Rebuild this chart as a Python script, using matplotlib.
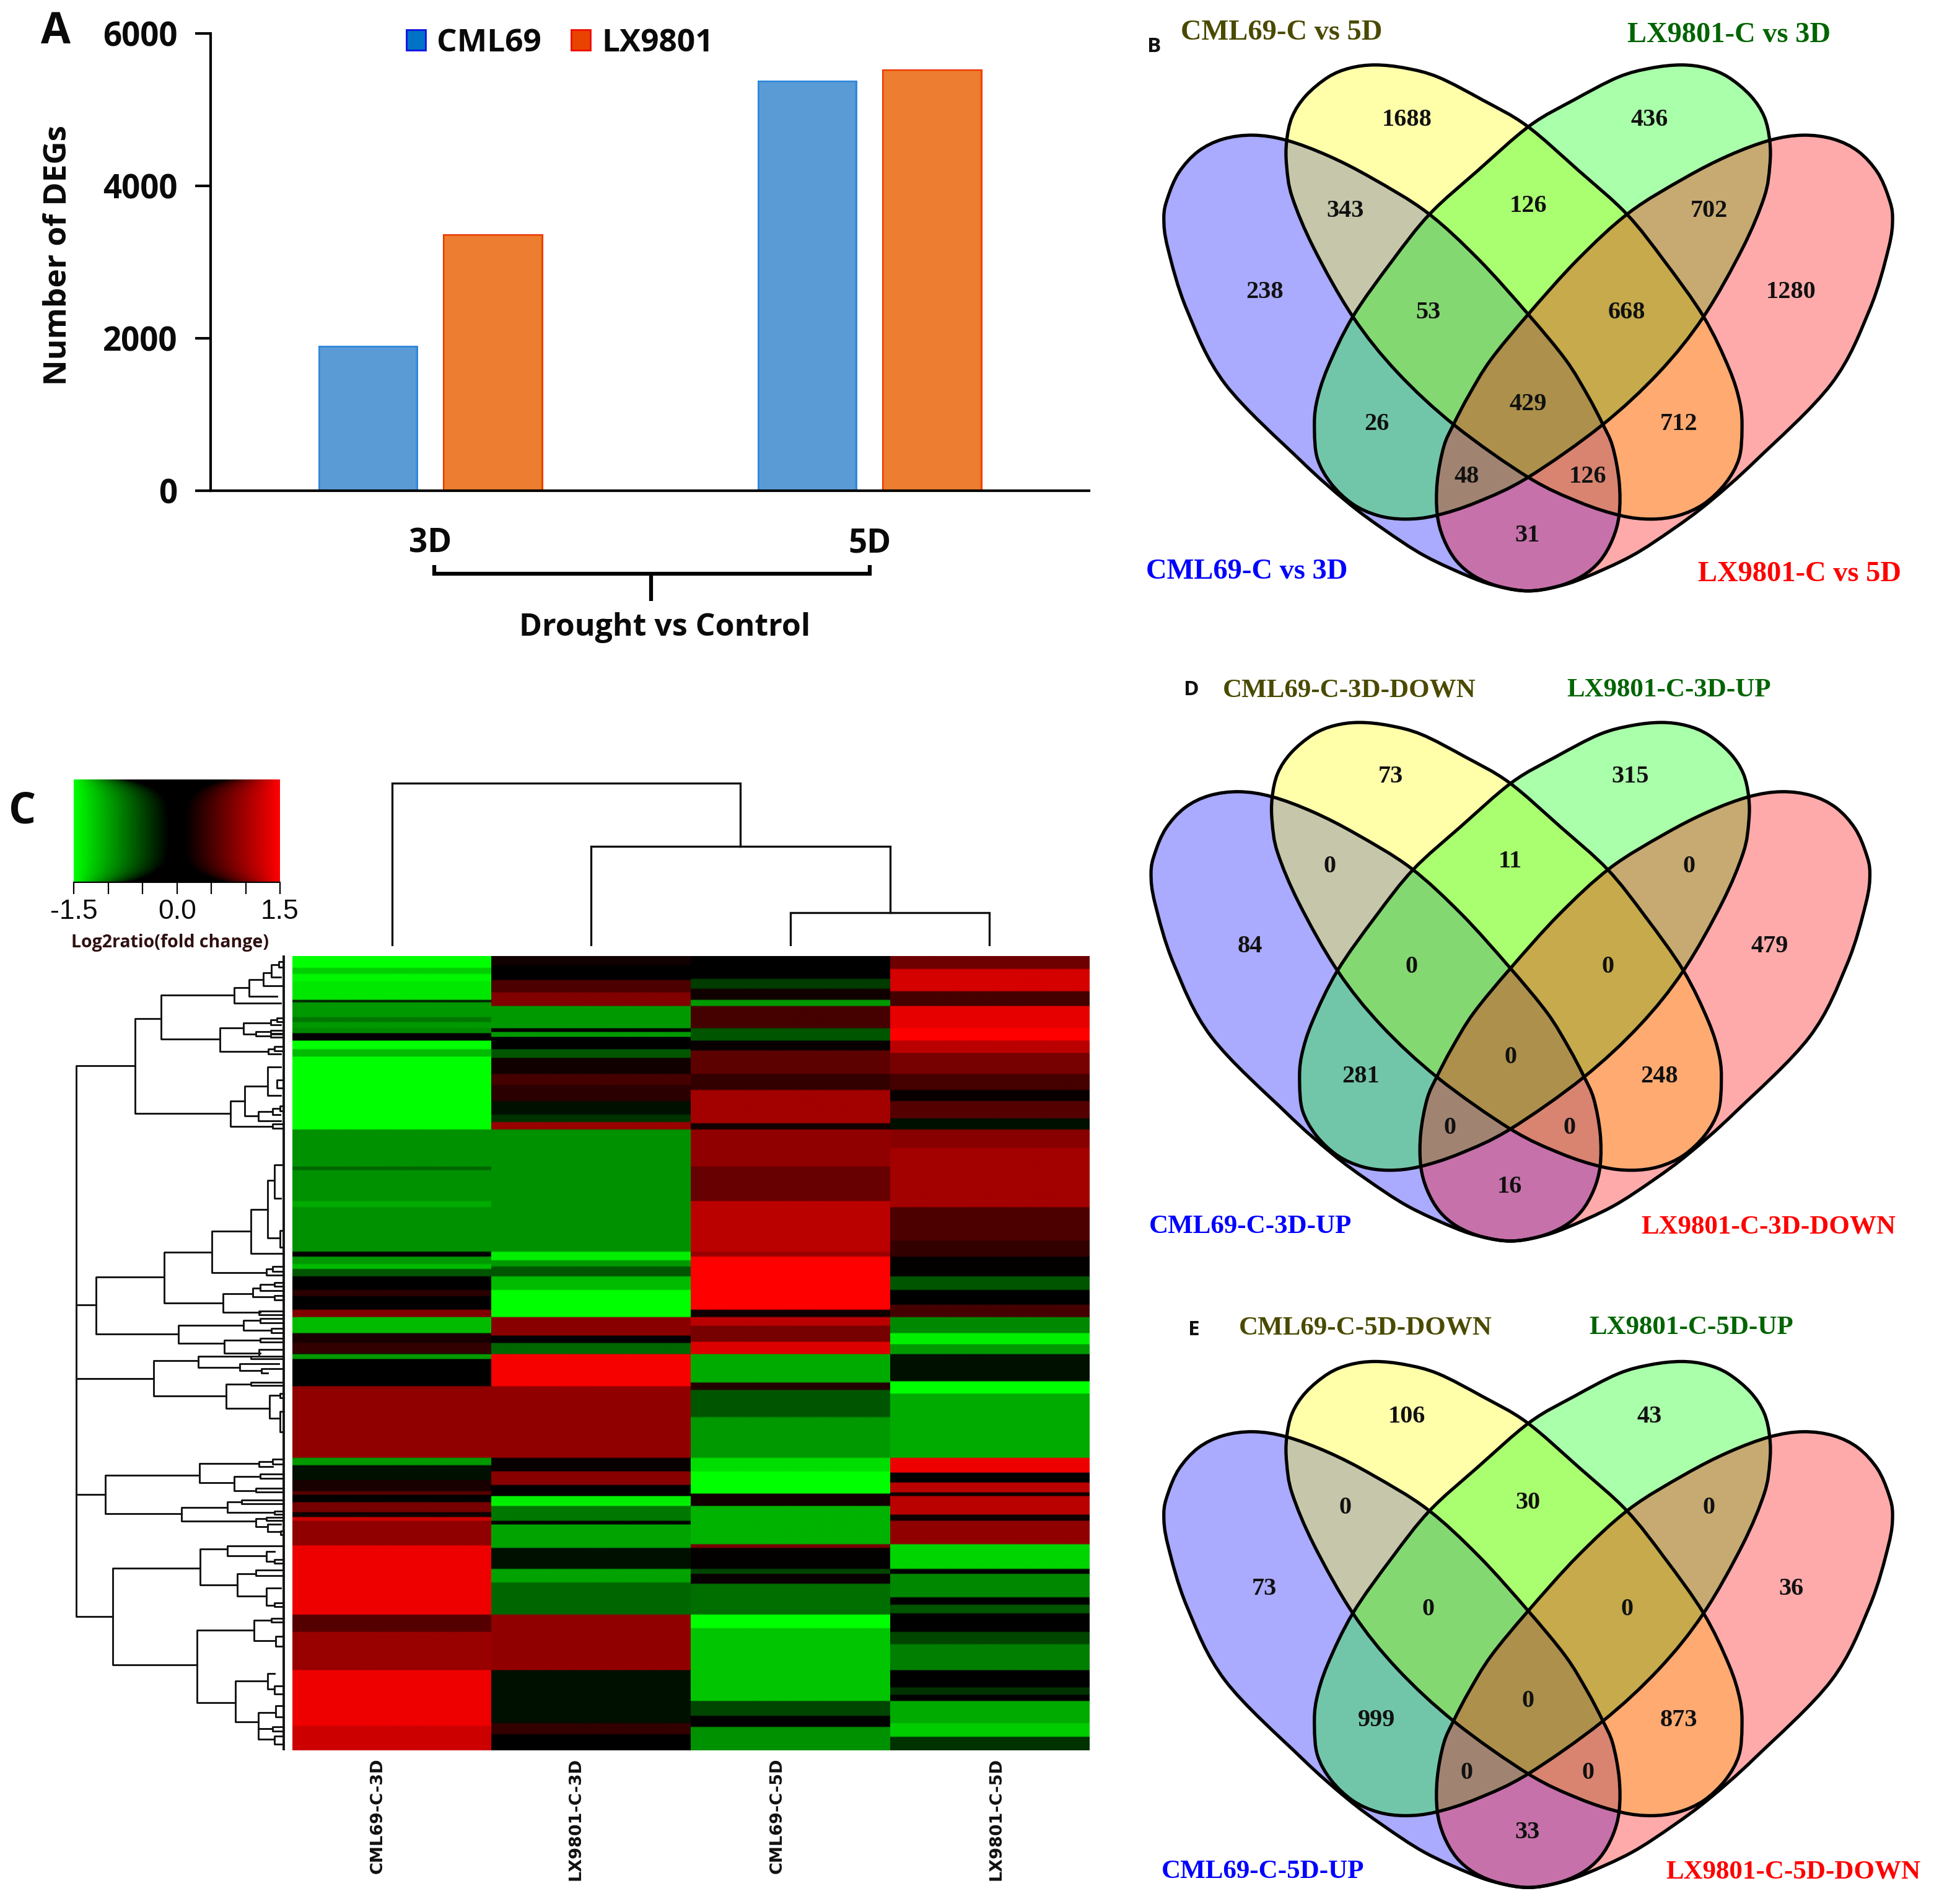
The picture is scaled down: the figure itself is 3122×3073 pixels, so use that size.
import numpy as np
import matplotlib
matplotlib.use("Agg")
import matplotlib.pyplot as plt
import matplotlib.patheffects as pe
from matplotlib.path import Path
from matplotlib.patches import PathPatch, Patch
from matplotlib.colors import LinearSegmentedColormap

W, H = 3122, 3073
S = W / 1568.0  # layout px -> figure px

# ---------- Panel A ----------
days = ["3D", "5D"]
cml69_degs = [1880, 5360]
lx9801_degs = [3340, 5500]

# ---------- Heatmap (run-length per column: row where a band starts, value of band) ----------
samples = ["CML69-C-3D", "LX9801-C-3D", "CML69-C-5D", "LX9801-C-5D"]
n_rows = 644
c1_start = [0,10,15,21,36,38,50,54,59,63,69,76,82,141,171,174,199,204,240,244,250,254,260,271,276,287,293,306,314,322,323,327,349,407,413,425,434,437,443,451,455,458,478,534,548,579,624]
c1_value = [-1.5,-1.2,-1.45,-1.35,-.2,-.9,-.7,-.9,-.8,0,-1.5,-1.1,-1.5,-.85,-.6,-.85,-1.0,-.85,0,-.9,-1.1,-.5,0,.25,0,.75,-1.1,.15,.3,.2,-.9,0,.85,-.9,-.1,.15,.5,0,.7,.1,1.2,.85,1.4,.5,.9,1.4,1.2]
c2_start = [0,8,20,30,41,59,62,66,76,83,96,105,118,129,135,141,240,247,252,260,271,293,308,314,323,349,407,418,429,438,446,458,461,480,497,508,534,579,622,631]
c2_value = [.1,0,.45,.75,-.9,0,-.9,0,-.5,.1,.4,.25,-.1,-.3,.9,-.85,-1.4,-.9,-.5,-1.1,-1.5,.8,0,-.6,1.45,.85,.05,.8,0,-1.4,-.7,0,-.95,-.1,-.95,-.6,.85,-.1,.3,0]
c3_start = [0,19,27,36,41,59,69,77,96,109,136,141,171,199,240,244,287,293,300,313,323,346,352,374,407,418,436,446,477,480,497,501,509,534,545,604,616,625]
c3_value = [0,-.35,.1,-.9,.4,-.5,.05,.55,.3,.95,.1,.85,.6,1.1,.9,1.5,.1,1.1,.7,1.3,-1.0,.2,-.5,-.9,-1.3,-1.5,.1,-1.05,.7,.02,-.4,.05,-.65,-1.5,-1.15,-.4,0,-.85]
c4_start = [0,11,29,41,59,69,79,96,109,118,132,141,156,204,231,244,260,271,283,293,306,315,323,345,355,407,419,427,435,438,453,458,477,497,501,520,526,533,548,558,579,593,599,604,622,633]
c4_value = [.65,1.25,.4,1.35,1.5,1.1,.7,.4,.05,.5,-.1,.8,.95,.45,.3,.02,-.5,0,.4,-.8,-1.4,-.9,-.1,-1.5,-1.0,1.4,0,1.1,.1,1.1,.1,.85,-1.25,0,-.8,0,-.5,0,-.4,-.75,0,-.3,0,-1.0,-1.2,-.3]

def expand(starts, values):
    lens = np.diff(list(starts) + [n_rows])
    return np.repeat(values, lens)

heat = np.column_stack([expand(c1_start, c1_value), expand(c2_start, c2_value),
                        expand(c3_start, c3_value), expand(c4_start, c4_value)])

# ---------- Column dendrogram ----------
col_merge_left = [2, 1, 0]
col_merge_right = [3, 2.5, 1.75]
col_merge_height = [27, 81, 132]

# ---------- Row dendrogram: merge height, top leaf pos, bottom leaf pos, child height top, child height bottom ----------
row_tree = [
 (40,435,2578,325,215),(40,1365,2103,135,180),(40,1653,1653,415,415),
 (325,250,620,450,785),(450,160,330,805,735),(805,130,190,875,1030),(875,100,165,945,1010),
 (945,72,122,985,1040),(985,40,90,1020,1030),(1020,30,50,1045,1045),
 (735,288,378,848,970),(848,268,310,980,910),(980,255,275,1010,1030),(1010,248,262,1045,1045),
 (910,302,318,980,980),(980,296,308,1045,1045),(980,312,324,1045,1045),(970,368,388,1000,1030),(1000,360,376,1045,1045),
 (785,572,670,855,990),(855,515,630,965,920),(965,440,550,1030,1030),(1010,490,520,1045,1045),
 (920,612,650,990,1030),(990,600,625,1025,1025),(1025,590,610,1045,1045),(990,660,678,1045,1045),
 (135,1258,1478,465,535),(465,1160,1358,695,750),(695,1078,1240,885,960),(885,995,1165,965,1045),
 (965,880,1105,1000,1025),(1000,820,950,1035,1030),(1025,1075,1140,1045,1045),(960,1225,1250,990,1045),(990,1215,1235,1045,1045),
 (750,1322,1395,895,930),(895,1300,1335,930,1000),(930,1285,1310,1000,1045),(1000,1278,1292,1045,1045),(1000,1330,1345,1045,1045),
 (925,1390,1405,1045,1045),(535,1445,1515,848,755),(848,1425,1465,930,985),(930,1418,1435,1045,1045),(985,1458,1475,1045,1045),
 (755,1503,1553,930,930),(930,1495,1510,1045,1045),(925,1540,1565,1045,1045),
 (415,1583,1720,630,765),(630,1565,1608,885,830),(885,1565,1575,1045,1045),(830,1595,1620,1020,935),(935,1615,1630,1045,965),
 (765,1673,1768,885,975),(885,1668,1680,1045,1045),(975,1718,1808,1025,1025),(1025,1780,1860,1045,1045),(1025,1710,1728,1045,1045),
 (180,2028,2178,635,550),(635,1983,2058,925,805),(925,1975,1995,990,990),(990,1965,1985,1045,1045),(805,2033,2088,930,910),
 (930,2025,2040,1045,1045),(910,2080,2095,1045,1045),(550,2153,2208,770,910),(770,2133,2173,840,1000),(840,2125,2140,1045,1045),
 (1000,2168,2180,1045,1045),(910,2198,2228,960,965),(960,2192,2205,1045,1045),(965,2220,2248,1030,1030),(1030,2245,2260,1045,1045),
 (215,2390,2768,640,625),(640,2316,2456,770,820),(770,2303,2343,1045,960),(960,2325,2365,1000,1000),(1000,2358,2372,1045,1045),
 (820,2413,2500,910,960),(910,2398,2420,1045,1045),(960,2468,2535,1030,1000),(1000,2525,2540,1045,1045),
 (625,2633,2913,900,810),(900,2593,2673,985,1005),(985,2585,2600,1045,1045),(1005,2655,2695,1045,1045),
 (810,2830,2988,965,920),(965,2800,2860,1000,1000),(1000,2848,2880,1045,1045),
 (920,2953,3016,1005,990),(920,3016,3056,990,1000),(1005,2925,2970,1045,1045),(1000,3045,3075,1045,1045),(990,3008,3024,1045,1045),
]

# ---------- Venn ----------
region_xy = [(248,738),(530,302),(1010,302),(1290,738),(408,532),(770,520),(1128,532),(572,790),
             (965,790),(770,1022),(470,1072),(1068,1072),(648,1205),(888,1205),(768,1355)]
venn_b = [238,1688,436,1280,343,126,702,53,668,429,26,712,48,126,31]
venn_d = [84,73,315,479,0,11,0,0,0,0,281,248,0,0,16]
venn_e = [73,106,43,36,0,30,0,0,0,0,999,873,0,0,33]
labels_b = ["CML69-C vs 5D", "LX9801-C vs 3D", "CML69-C vs 3D", "LX9801-C vs 5D"]
labels_d = ["CML69-C-3D-DOWN", "LX9801-C-3D-UP", "CML69-C-3D-UP", "LX9801-C-3D-DOWN"]
labels_e = ["CML69-C-5D-DOWN", "LX9801-C-5D-UP", "CML69-C-5D-UP", "LX9801-C-5D-DOWN"]

petal_blue = [(770,1495),(713,1484),(658,1461),(565,1406),(483,1338),(412,1270),(320,1165),(170,970),(95,784),(57,627),(49,549),
              (57,497),(79,434),(117,381),(166,350),(226,340),(292,353),(374,392),(461,449),(570,536),(672,655),(770,794),(844,909),
              (887,998),(917,1071),(937,1129),(950,1218),(950,1301),(937,1364),(912,1419),(876,1458),(827,1484)]
petal_yellow = [(292,355),(303,293),(330,240),(374,193),(417,170),(467,162),(527,170),(592,193),(680,251),(767,316),(870,430),(965,540),
                (1040,660),(1117,800),(1167,930),(1189,1019),(1193,1087),(1187,1160),(1160,1223),(1117,1275),(1067,1304),(1013,1313),
                (953,1304),(871,1270),(770,1207),(625,1076),(511,941),(423,800),(346,627),(303,497),(292,418)]

fig = plt.figure(figsize=(W/100, H/100), dpi=100, facecolor="white")

def axpx(x0, y0, x1, y1):
    return fig.add_axes([x0*S/W, 1-y1*S/H, (x1-x0)*S/W, (y1-y0)*S/H])

SANS = ["Open Sans", "DejaVu Sans"]
SERIF = ["Liberation Serif", "DejaVu Serif"]
DARK = "#0a0a0a"

ov = fig.add_axes([0,0,1,1], zorder=10)
ov.set_xlim(0, W/S); ov.set_ylim(H/S, 0); ov.axis("off"); ov.patch.set_alpha(0)

# ---------- A ----------
axA = axpx(171, 27, 883, 398)
x = np.arange(len(days))
w = 0.218; off = 0.142
b1 = axA.bar(x-off, cml69_degs, w, color="#5B9BD5", linewidth=0)
b2 = axA.bar(x+off, lx9801_degs, w, color="#ED7D31", linewidth=0)
for p in b1:
    p.set_path_effects([pe.Stroke(linewidth=5,foreground="#2C85DC"),pe.Stroke(linewidth=2.5,foreground="#3A8FD8"),pe.Normal()])
for p in b2:
    p.set_path_effects([pe.Stroke(linewidth=5,foreground="#F02800"),pe.Stroke(linewidth=2.5,foreground="#EA6A00"),pe.Normal()])
axA.set_xlim(-0.5, 1.5); axA.set_ylim(0, 6000)
axA.set_xticks(x); axA.set_xticklabels(days)
axA.set_yticks([0,2000,4000,6000])
axA.tick_params(axis="x", length=0, pad=42)
axA.tick_params(axis="y", length=18, width=3, pad=21)
for t in axA.get_xticklabels()+axA.get_yticklabels():
    t.set_fontfamily(SANS); t.set_fontweight("bold"); t.set_fontsize(38); t.set_color(DARK)
for s in ["top","right"]:
    axA.spines[s].set_visible(False)
for s in ["left","bottom"]:
    axA.spines[s].set_linewidth(3)
axA.set_ylabel("Number of DEGs", fontfamily=SANS, fontweight="bold", fontsize=37, color=DARK)
axA.yaxis.set_label_coords((60-171)/712, 1-(207-27)/371)
handles = [Patch(facecolor="#0072C6",edgecolor="#1010E0",lw=2,label="CML69"),
           Patch(facecolor="#E84400",edgecolor="#F00A00",lw=2,label="LX9801")]
leg = axA.legend(handles=handles, ncol=2, loc="center", bbox_to_anchor=((454-171)/712, 1-(35-27)/371), frameon=False,
                 handlelength=0.6, handleheight=0.6, handletextpad=0.35, columnspacing=0.95,
                 prop={"family":SANS,"weight":"bold","size":37})
for t in leg.get_texts(): t.set_color(DARK)

ov.plot([352,352,705,705],[458,465,465,458], color="k", lw=4.5, solid_capstyle="butt", solid_joinstyle="miter")
ov.plot([528,528],[465,487], color="k", lw=4.5, solid_capstyle="butt")
ov.text(539,509,"Drought vs Control",ha="center",va="center",family=SANS,weight="bold",fontsize=36,color=DARK)
ov.text(45,26,"A",ha="center",va="center",family=SANS,weight="bold",fontsize=50,color=DARK)
ov.text(18,658,"C",ha="center",va="center",family=SANS,weight="bold",fontsize=50,color=DARK)

# ---------- C heatmap ----------
cmap = LinearSegmentedColormap.from_list("gbr", ["#00FF00","#000000","#FF0000"])
axH = axpx(237, 775, 883, 1419)
for i in range(4):
    axH.imshow(heat[:,[i]], aspect="auto", cmap=cmap, vmin=-1.5, vmax=1.5, interpolation="bilinear",
               extent=(i-0.5,i+0.5,n_rows,0))
axH.set_xlim(-0.5,3.5); axH.set_ylim(n_rows,0)
axH.set_yticks([]); axH.set_xticks([])
for s in axH.spines.values(): s.set_visible(False)
label_x = [306,467,630,808]
for lx_, s_ in zip(label_x, samples):
    ov.text(lx_,1425,s_,rotation=90,ha="center",va="top",family="DejaVu Sans",weight="bold",fontsize=19.5,color="#101010")

# column dendrogram
axT = axpx(237, 630, 883, 767)
axT.set_xlim(-0.5,3.5); axT.set_ylim(0,137); axT.axis("off")
child_h = {0:0,1:0,2:0,3:0,2.5:27,1.75:81}
for l,r,h in zip(col_merge_left,col_merge_right,col_merge_height):
    axT.plot([l,l,r,r],[child_h[l],h,h,child_h[r]],color="#111111",lw=2.4,solid_joinstyle="miter")

# row dendrogram
axD = fig.add_axes([110/W, 1-2840/H, 380/W, 1300/H])
axD.set_xlim(0,1140); axD.set_ylim(3136,0); axD.axis("off")
for xm,t,b,et,eb in row_tree:
    axD.plot([et,xm,xm,eb],[t,t,b,b],color="#141414",lw=2.1,solid_joinstyle="round",clip_on=False)
axD.plot([1045,1045],[10,3095],color="#141414",lw=2.8,clip_on=False)

# colour bar
axC = axpx(60, 632, 227, 715)
gx = np.linspace(-1.5,1.5,300)
gy = np.linspace(-1,1,80)
XX,YY = np.meshgrid(gx,gy)
band = 0.12 + 0.55*np.abs(YY)**5
grad = np.sign(XX)*np.clip(np.abs(XX)-band,0,None)/(1.5-band)*1.5
axC.imshow(grad, aspect="auto", cmap=cmap, vmin=-1.5, vmax=1.5, extent=(-1.5,1.5,0,1), interpolation="bilinear")
axC.set_yticks([]); axC.set_xticks(np.arange(-1.5,1.51,0.5))
axC.set_xticklabels(["-1.5","","","0.0","","","1.5"], family="Liberation Sans", fontsize=32, color=DARK)
axC.tick_params(axis="x", length=14, width=1.6, pad=6)
for s in ["top","left","right"]: axC.spines[s].set_visible(False)
axC.spines["bottom"].set_linewidth(1.5)
ov.text(138,764,"Log2ratio(fold change)",ha="center",va="center",family=SANS,weight="bold",fontsize=20.5,color="#301010")

# ---------- Venns ----------
def closed_spline(pts):
    p = np.array(pts, float); n = len(p)
    verts = [p[0]]; codes = [Path.MOVETO]
    for i in range(n):
        p0,p1,p2,p3 = p[(i-1)%n],p[i],p[(i+1)%n],p[(i+2)%n]
        verts += [p1+(p2-p0)/6, p2-(p3-p1)/6, p2]
        codes += [Path.CURVE4]*3
    return Path(verts, codes)

def mirror(pts):
    return [(1540-a,b) for a,b in pts]

petals = [(petal_blue,"#0000FF"),(petal_yellow,"#FFFF00"),(mirror(petal_yellow),"#00FF00"),(mirror(petal_blue),"#FF0000")]
TITLE_COL = ["#4a4a00","#006400","#0000FF","#FF0000"]

def venn(cx, top, tip, hw, values, labels, label_pos, letter, lpos, labsize):
    ax = axpx(cx-hw, top, cx+hw, tip)
    ax.set_xlim(50,1490); ax.set_ylim(1495,160); ax.axis("off")
    for pts,col in petals:
        ax.add_patch(PathPatch(closed_spline(pts),facecolor=col,alpha=1/3,edgecolor="none",clip_on=False))
    for pts,col in petals:
        ax.add_patch(PathPatch(closed_spline(pts),facecolor="none",edgecolor="black",lw=3.8,clip_on=False))
    for (a,b),v in zip(region_xy,values):
        ax.text(a,b,str(v),ha="center",va="center",family=SERIF,weight="bold",fontsize=29,color="#111111")
    for (a,b),s_,c in zip(label_pos,labels,TITLE_COL):
        ov.text(a,b+1.5,s_,ha="center",va="center",family=SERIF,weight="bold",fontsize=labsize,color=c)
    ov.text(lpos[0],lpos[1]+1,letter,ha="center",va="center",family=SANS,weight="bold",fontsize=24,color="#111111")

venn(1239,52,479,295,venn_b,labels_b,[(1039,25),(1402,27),(1011,462),(1459,464)],"B",(936,37),33.5)
venn(1224.6,585,1006,291,venn_d,labels_d,[(1094,558),(1353,558),(1014,993),(1434,993)],"D",(966,558),31)
venn(1239,1103,1530,295,venn_e,labels_e,[(1107,1075),(1371,1075),(1024,1516),(1454,1516)],"E",(968,1077),31)

fig.savefig("out.png", dpi=100, facecolor="white")
